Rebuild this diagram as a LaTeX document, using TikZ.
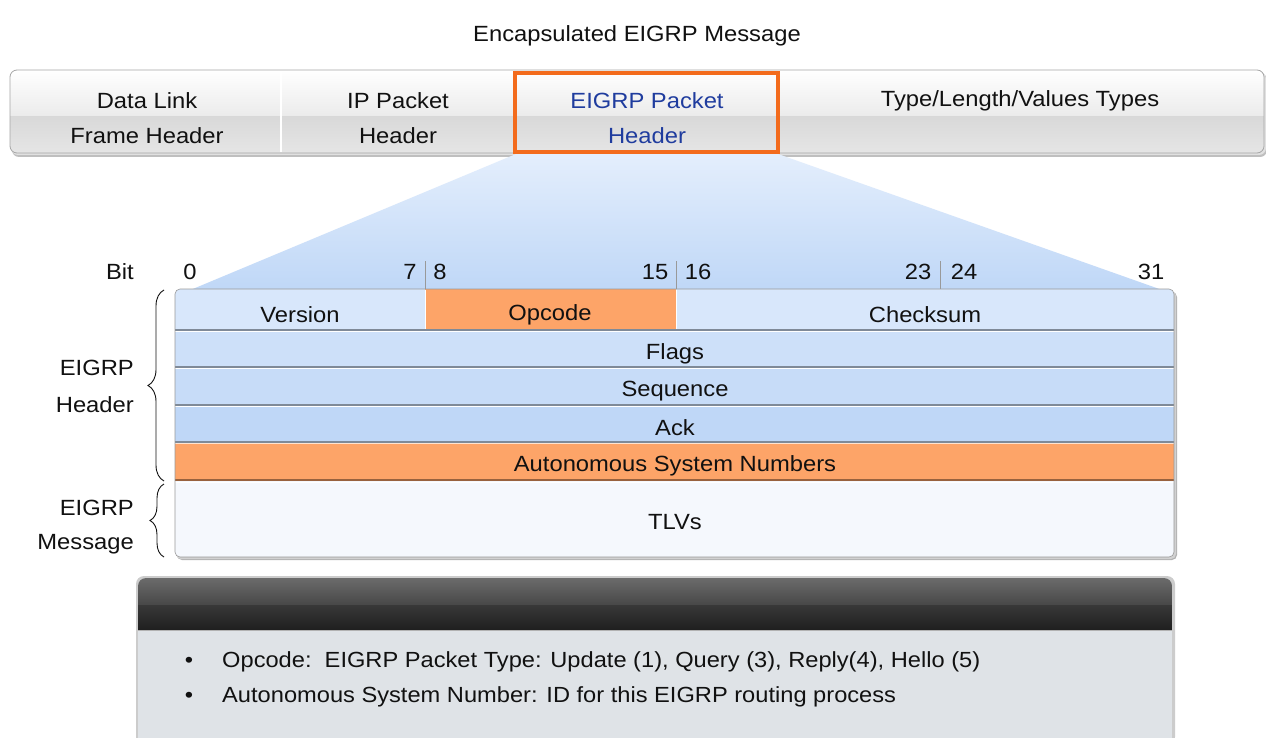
\documentclass[tikz,border=0pt]{standalone}
\usepackage{fontspec}
\setmainfont[FakeStretch=1.08]{Liberation Sans}
\usetikzlibrary{decorations.pathreplacing,calc}

\definecolor{txt}{HTML}{111111}
\definecolor{eigrpblue}{HTML}{1F3C9E}
\definecolor{hilite}{HTML}{F36B1C}
\definecolor{orangefield}{HTML}{FDA468}
\definecolor{blueA}{HTML}{D8E7FB}
\definecolor{blueB}{HTML}{CDE0F9}
\definecolor{blueC}{HTML}{C7DCF8}
\definecolor{blueD}{HTML}{BFD7F7}
\definecolor{tlvfill}{HTML}{F5F8FD}
\definecolor{sepline}{HTML}{7F8A98}
\definecolor{panelbody}{HTML}{DFE3E7}

\tikzset{
  lbl/.style={font=\fontsize{22}{26}\selectfont, text=txt, inner sep=0pt},
  smalllbl/.style={font=\fontsize{21.9}{26}\selectfont, text=txt, inner sep=0pt},
  sepl/.style={draw=sepline, line width=1.2pt},
  brc/.style={draw=txt, line width=0.9pt, decorate,
    decoration={brace, amplitude=16pt, aspect=0.5}},
  tick/.style={draw=gray!80, line width=1pt},
}

\begin{document}
\begin{tikzpicture}[x=1pt, y=-1pt]
\useasboundingbox (0,0) rectangle (1266,738);
\fill[white] (0,0) rectangle (1266,738);

% caption
\node[lbl] (title) at (637,36) {Encapsulated EIGRP Message};

% ---------- encapsulation bar ----------
\fill[black!25, rounded corners=7pt] (12,73) rectangle (1267,157);
\fill[black!12, rounded corners=7pt] (11,72) rectangle (1266,155);
\begin{scope}
  \clip[rounded corners=7pt] (10,70) rectangle (1264,153);
  \shade[top color=white, bottom color=black!8] (10,70) rectangle (1264,117);
  \shade[top color=black!15, bottom color=black!10] (10,117) rectangle (1264,153);
\end{scope}
\draw[black!35, line width=0.8pt, rounded corners=7pt] (10,70) rectangle (1264,153);
\draw[white, line width=1.2pt] (281,71) -- (281,152);

\node[lbl] (dl1) at (147,101) {Data Link};
\node[lbl] (dl2) at (147,136) {Frame Header};
\node[lbl] (ip1) at (398,101) {IP Packet};
\node[lbl] (ip2) at (398,136) {Header};
\node[lbl, text=eigrpblue] (eg1) at (647,101) {EIGRP Packet};
\node[lbl, text=eigrpblue] (eg2) at (647,136) {Header};
\node[lbl] (tlvt) at (1020,101) {Type/Length/Values Types};

% ---------- expansion wedge ----------
\shade[top color=blueA!70!white, bottom color=blueD]
  (516,154) -- (778,154) -- (1165,291) -- (188,291) -- cycle;

% highlighted EIGRP header box
\draw[hilite, line width=4pt] (515,73) rectangle (778,152);

% ---------- bit ruler ----------
\node[lbl, anchor=east] (bit) at (134,272) {Bit};
\node[lbl] (b0)  at (190,272) {0};
\node[lbl] (b7)  at (410,272) {7};
\node[lbl] (b8)  at (440,272) {8};
\node[lbl] (b15) at (655,272) {15};
\node[lbl] (b16) at (698,272) {16};
\node[lbl] (b23) at (918,272) {23};
\node[lbl] (b24) at (964,272) {24};
\node[lbl] (b31) at (1151,272) {31};
\draw[tick] (425,261) -- (425,290);
\draw[tick] (676,261) -- (676,290);
\draw[tick] (940,261) -- (940,290);

% ---------- header fields ----------
% shadow
\fill[black!30, rounded corners=5pt] (177,292) rectangle (1177,560);
\fill[black!18, rounded corners=5pt] (176,291) rectangle (1176,559);
\begin{scope}
  \clip[rounded corners=5pt] (175,289) rectangle (1174,557);
  \fill[blueA] (175,289) rectangle (1174,330);
  \fill[orangefield] (425,289) rectangle (676,330);
  \fill[blueB] (175,330) rectangle (1174,367);
  \fill[blueC] (175,367) rectangle (1174,405);
  \fill[blueD] (175,405) rectangle (1174,442);
  \fill[orangefield] (175,442) rectangle (1174,480);
  \fill[tlvfill] (175,480) rectangle (1174,557);
\end{scope}
% field separators
\draw[sepl] (175,330) -- (1174,330);
\draw[sepl] (175,367) -- (1174,367);
\draw[sepl] (175,405) -- (1174,405);
\draw[sepl] (175,442) -- (1174,442);
\draw[sepl, draw=orangefield!60!black] (175,480) -- (1174,480);
\draw[white, line width=0.8pt] (175,331.5) -- (1174,331.5);
\draw[white, line width=0.8pt] (175,368.5) -- (1174,368.5);
\draw[white, line width=0.8pt] (175,406.5) -- (1174,406.5);
\draw[white!70!orangefield, line width=0.8pt] (175,443.5) -- (1174,443.5);
\draw[white, line width=0.8pt] (175,482) -- (1174,482);
\draw[white, line width=1pt] (425,290) -- (425,329);
\draw[white, line width=1pt] (676,290) -- (676,329);
\draw[black!40, line width=0.6pt, rounded corners=5pt] (175,289) rectangle (1174,557);

\node[lbl] (ver) at (300,315) {Version};
\node[lbl] (opc) at (550,315) {Opcode};
\node[lbl] (chk) at (925,315) {Checksum};
\node[lbl] (flg) at (675,354) {Flags};
\node[lbl] (seq) at (675,391) {Sequence};
\node[lbl] (ack) at (675,428) {Ack};
\node[lbl] (asn) at (675,466) {Autonomous System Numbers};
\node[lbl] (tlv) at (675,522) {TLVs};

% ---------- braces ----------
\coordinate (hb1) at (164,481);
\coordinate (hb2) at (164,290);
\coordinate (mb1) at (164,557);
\coordinate (mb2) at (164,484);
\draw[brc] (hb1) -- (hb2);
\draw[brc, decoration={brace, amplitude=14pt}] (mb1) -- (mb2);
\node[lbl, anchor=east] (hdr1) at (134,368) {EIGRP};
\node[lbl, anchor=east] (hdr2) at (134,405) {Header};
\node[lbl, anchor=east] (msg1) at (134,508) {EIGRP};
\node[lbl, anchor=east] (msg2) at (134,544) {Message};

% ---------- description panel ----------
\fill[black!20, rounded corners=8pt] (136,576) rectangle (1175,745);
\begin{scope}
  \clip[rounded corners=8pt] (138,578) rectangle (1172,760);
  \fill[panelbody] (138,578) rectangle (1172,760);
  \shade[top color=black!58, bottom color=black!72] (138,578) rectangle (1172,605);
  \shade[top color=black!78, bottom color=black!88] (138,605) rectangle (1172,630);
\end{scope}
\draw[black!30, line width=0.6pt] (138,630) -- (1172,630);

\node[smalllbl] (bul1) at (189,662) {\textbullet};
\node[smalllbl] (bul2) at (189,697) {\textbullet};
\node[smalllbl, anchor=west] (desc1) at (222,662)
  {Opcode:\ \ EIGRP Packet Type: Update (1), Query (3), Reply(4), Hello (5)};
\node[smalllbl, anchor=west] (desc2) at (222,697)
  {Autonomous System Number: ID for this EIGRP routing process};
\end{tikzpicture}
\end{document}
